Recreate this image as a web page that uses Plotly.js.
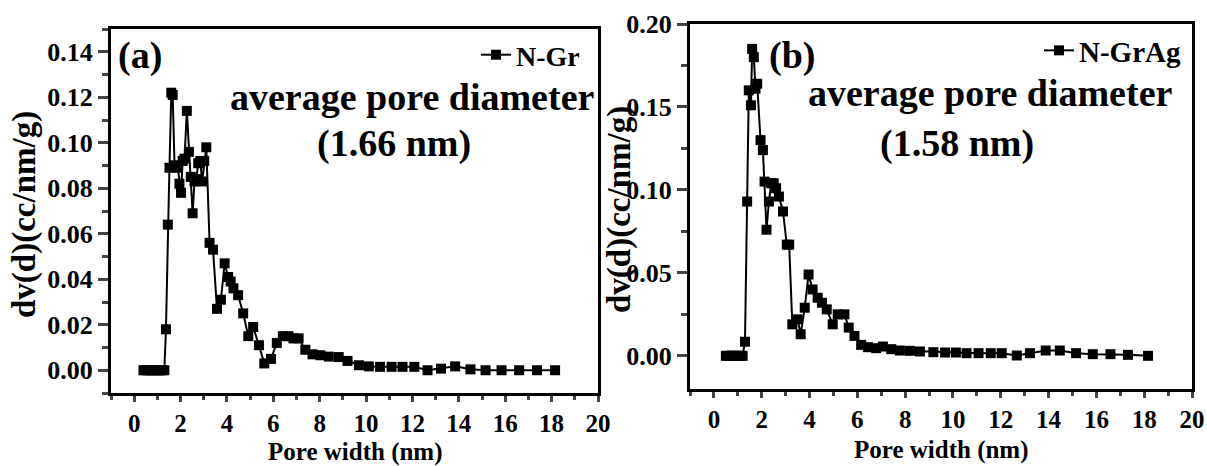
<!DOCTYPE html>
<html><head><meta charset="utf-8">
<script src="https://cdn.plot.ly/plotly-3.0.1.min.js"></script>
<style>html,body{margin:0;padding:0;background:#fff}#chart{width:1207px;height:466px}</style>
</head><body><div id="chart"></div>
<script>
// Panel (a) N-Gr
const widthA = [0.40,0.50,0.60,0.70,0.80,0.90,1.00,1.10,1.20,1.30,1.37,1.45,1.52,1.60,1.66,1.74,1.81,1.88,1.95,2.02,2.09,2.17,2.27,2.36,2.44,2.52,2.60,2.68,2.76,2.85,2.93,3.02,3.11,3.25,3.40,3.57,3.74,3.90,4.05,4.16,4.28,4.48,4.70,4.92,5.13,5.38,5.61,5.90,6.15,6.41,6.65,6.87,7.09,7.38,7.69,8.03,8.39,8.82,9.20,9.69,10.12,10.60,11.10,11.57,12.08,12.65,13.23,13.84,14.50,15.15,15.84,16.60,17.37,18.15];
const dvA = [0,0,0,0,0,0,0,0,0,0,0.018,0.064,0.089,0.122,0.121,0.090,0.090,0.089,0.082,0.078,0.092,0.093,0.114,0.096,0.085,0.069,0.083,0.084,0.091,0.092,0.083,0.092,0.098,0.056,0.053,0.027,0.031,0.047,0.041,0.039,0.036,0.033,0.025,0.015,0.019,0.011,0.003,0.005,0.012,0.015,0.015,0.014,0.014,0.009,0.007,0.0066,0.006,0.0058,0.0041,0.0022,0.0017,0.0015,0.0015,0.0015,0.0015,0.0,0.0007,0.0017,0.0004,0,0,0,0,0];
// Panel (b) N-GrAg
const widthB = [0.50,0.60,0.70,0.80,0.90,1.00,1.10,1.20,1.30,1.39,1.46,1.55,1.60,1.67,1.74,1.81,1.95,2.05,2.12,2.20,2.30,2.40,2.50,2.60,2.72,2.89,3.05,3.15,3.28,3.50,3.63,3.80,3.96,4.13,4.34,4.52,4.72,4.97,5.18,5.46,5.64,5.88,6.16,6.44,6.79,7.07,7.42,7.78,8.20,8.62,9.18,9.67,10.12,10.57,11.07,11.58,12.04,12.67,13.22,13.88,14.47,15.15,15.85,16.59,17.32,18.16];
const dvB = [0,0,0,0,0,0,0,0,0.0085,0.093,0.160,0.151,0.185,0.180,0.161,0.164,0.130,0.124,0.105,0.076,0.093,0.104,0.104,0.101,0.096,0.087,0.067,0.067,0.019,0.022,0.013,0.029,0.049,0.040,0.035,0.032,0.028,0.019,0.025,0.025,0.017,0.012,0.0066,0.0052,0.0046,0.0056,0.004,0.0032,0.003,0.0026,0.0022,0.002,0.002,0.0016,0.0016,0.0016,0.0016,0.0002,0.0016,0.0032,0.0032,0.0016,0.001,0.001,0.0006,0];
const nameA = 'N-Gr', nameB = 'N-GrAg';
const xTicks = [0,2,4,6,8,10,12,14,16,18,20];
const yTicksA = [0.00,0.02,0.04,0.06,0.08,0.10,0.12,0.14];
const yTicksB = [0.00,0.05,0.10,0.15,0.20];
const xTitle = 'Pore width (nm)', yTitle = 'dv(d)(cc/nm/g)';

const FF = '"Liberation Serif", "Times New Roman", serif';
const fb = (s) => ({family: FF, size: s, color: '#000', weight: 'bold'});
const W = 1207, H = 466;

function trace(x, y, name, xa, ya, lg){
  return {x: x, y: y, name: name, type: 'scatter', mode: 'lines+markers',
    xaxis: xa, yaxis: ya, legend: lg,
    line: {color: '#000', width: 2},
    marker: {symbol: 'square', size: 10, color: '#000'}};
}
function xax(dom, anchor){
  return {domain: dom, anchor: anchor, range: [-1, 20], tickvals: xTicks,
    ticktext: xTicks.map(String), ticks: 'outside', ticklen: 6, tickwidth: 3,
    showline: true, linewidth: 3, linecolor: '#000', mirror: true, showgrid: false, zeroline: false,
    tickfont: fb(25), minor: {dtick: 1, tick0: 1, ticks: 'outside', ticklen: 4, tickwidth: 3, showgrid: false}};
}
function yax(dom, anchor, range, vals, minor){
  return {domain: dom, anchor: anchor, range: range, tickvals: vals,
    ticktext: vals.map(v => v.toFixed(2)), ticks: 'outside', ticklen: 10, tickwidth: 3,
    showline: true, linewidth: 3, linecolor: '#000', mirror: true, showgrid: false, zeroline: false,
    tickfont: fb(26), minor: {dtick: minor, tick0: 0, ticks: 'outside', ticklen: 6, tickwidth: 3, showgrid: false}};
}
function ann(x, y, text, size, extra){
  return Object.assign({xref: 'paper', yref: 'paper', x: x/W, y: 1-y/H, text: text, showarrow: false,
    font: fb(size), xanchor: 'center', yanchor: 'middle'}, extra || {});
}

const data = [trace(widthA, dvA, nameA, 'x', 'y', 'legend'), trace(widthB, dvB, nameB, 'x2', 'y2', 'legend2')];

const layout = {
  width: W, height: H, margin: {l: 0, r: 0, t: 0, b: 0},
  paper_bgcolor: '#fff', plot_bgcolor: '#fff', showlegend: true,
  xaxis: xax([111/W, 598/W], 'y'),
  yaxis: yax([1-393/H, 1-29/H], 'x', [-0.01, 0.15], yTicksA, 0.01),
  xaxis2: xax([690/W, 1192/W], 'y2'),
  yaxis2: yax([1-389/H, 1-24/H], 'x2', [-0.02, 0.20], yTicksB, 0.025),
  legend: {x: 585/W, y: 1-30/H, xanchor: 'right', yanchor: 'top', bgcolor: 'rgba(0,0,0,0)',
    font: fb(28), itemwidth: 30, tracegroupgap: 0},
  legend2: {x: 1186/W, y: 1-25/H, xanchor: 'right', yanchor: 'top', bgcolor: 'rgba(0,0,0,0)',
    font: fb(29), itemwidth: 30, tracegroupgap: 0},
  annotations: [
    ann(140, 56, '(a)', 38),
    ann(412, 97, 'average pore diameter', 38),
    ann(394, 143, '(1.66 nm)', 38),
    ann(792, 56, '(b)', 38),
    ann(990, 93, 'average pore diameter', 38),
    ann(957, 143, '(1.58 nm)', 38),
    ann(355, 452, xTitle, 25),
    ann(941, 450, xTitle, 25),
    ann(24, 215, yTitle, 33, {textangle: -90}),
    ann(619, 210, yTitle, 33, {textangle: -90})
  ]
};
Plotly.newPlot('chart', data, layout, {displayModeBar: false, staticPlot: true});
</script></body></html>
